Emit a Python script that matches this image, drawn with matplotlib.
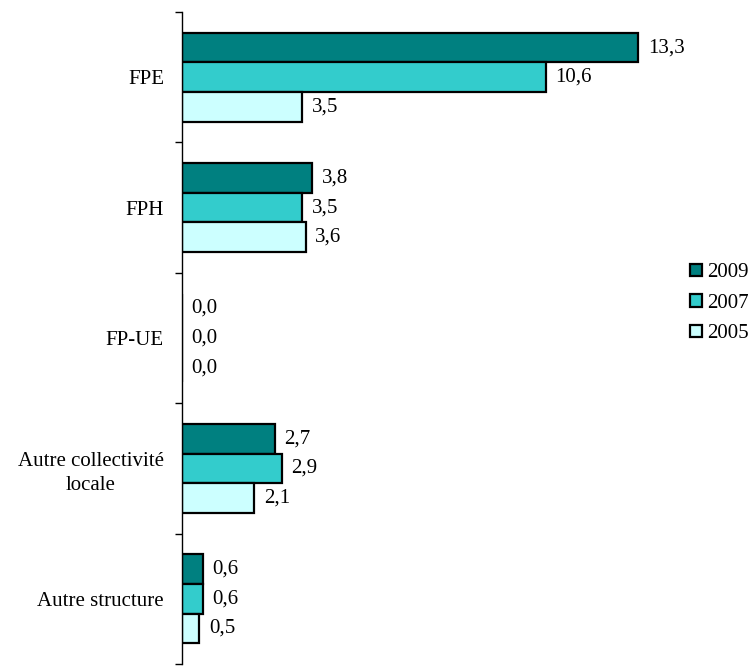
import numpy as np
import matplotlib
matplotlib.use("Agg")
from matplotlib import pyplot as plt
from matplotlib.patches import Patch

categories = ["FPE", "FPH", "FP-UE", "Autre collectivité\nlocale", "Autre structure"]
years = ["2009", "2007", "2005"]
v2009 = [13.3, 3.8, 0.0, 2.7, 0.6]
v2007 = [10.6, 3.5, 0.0, 2.9, 0.6]
v2005 = [3.5, 3.6, 0.0, 2.1, 0.5]
colors = ["#008080", "#33CCCC", "#CCFFFF"]

plt.rcParams['font.family'] = ['Liberation Serif', 'DejaVu Serif']
fs = 15

fig = plt.figure(figsize=(7.54, 6.67), dpi=100)
ax = fig.add_axes([182/754, 3/667, 549/754, 652/667])

y = np.arange(len(categories))
bh = 0.227
series = [v2009, v2007, v2005]
for i, (vals, c) in enumerate(zip(series, colors)):
    pos = y + (i - 1) * bh
    ax.barh(pos, vals, height=bh, color=c, edgecolor="black", linewidth=1.6)
    for p, v in zip(pos, vals):
        ax.text(v + 0.28, p, ("%.1f" % v).replace(".", ","), va="center", ha="left", fontsize=fs)

ax.set_xlim(0, 16)
ax.set_ylim(len(categories) - 0.5, -0.5)

for s in ["top", "right", "bottom"]:
    ax.spines[s].set_visible(False)
ax.spines["left"].set_linewidth(1.0)
ax.set_xticks([])

ax.set_yticks(y)
ax.set_yticklabels(categories, fontsize=fs, ha="right", multialignment="center", linespacing=1.35)
ax.tick_params(axis="y", which="major", length=0, pad=13)
ax.set_yticks(np.arange(-0.5, len(categories)), minor=True)
ax.tick_params(axis="y", which="minor", length=5, width=1.0, direction="out")

handles = [Patch(facecolor=c, edgecolor="black", linewidth=1.6, label=yr) for c, yr in zip(colors, years)]
fig.legend(handles=handles, loc="upper left", bbox_to_anchor=(680/754, 1 - 253/667),
           frameon=False, fontsize=fs, handlelength=0.55, handleheight=0.55,
           handletextpad=0.25, labelspacing=0.55, borderpad=0)

fig.savefig("out.png", dpi=100)
